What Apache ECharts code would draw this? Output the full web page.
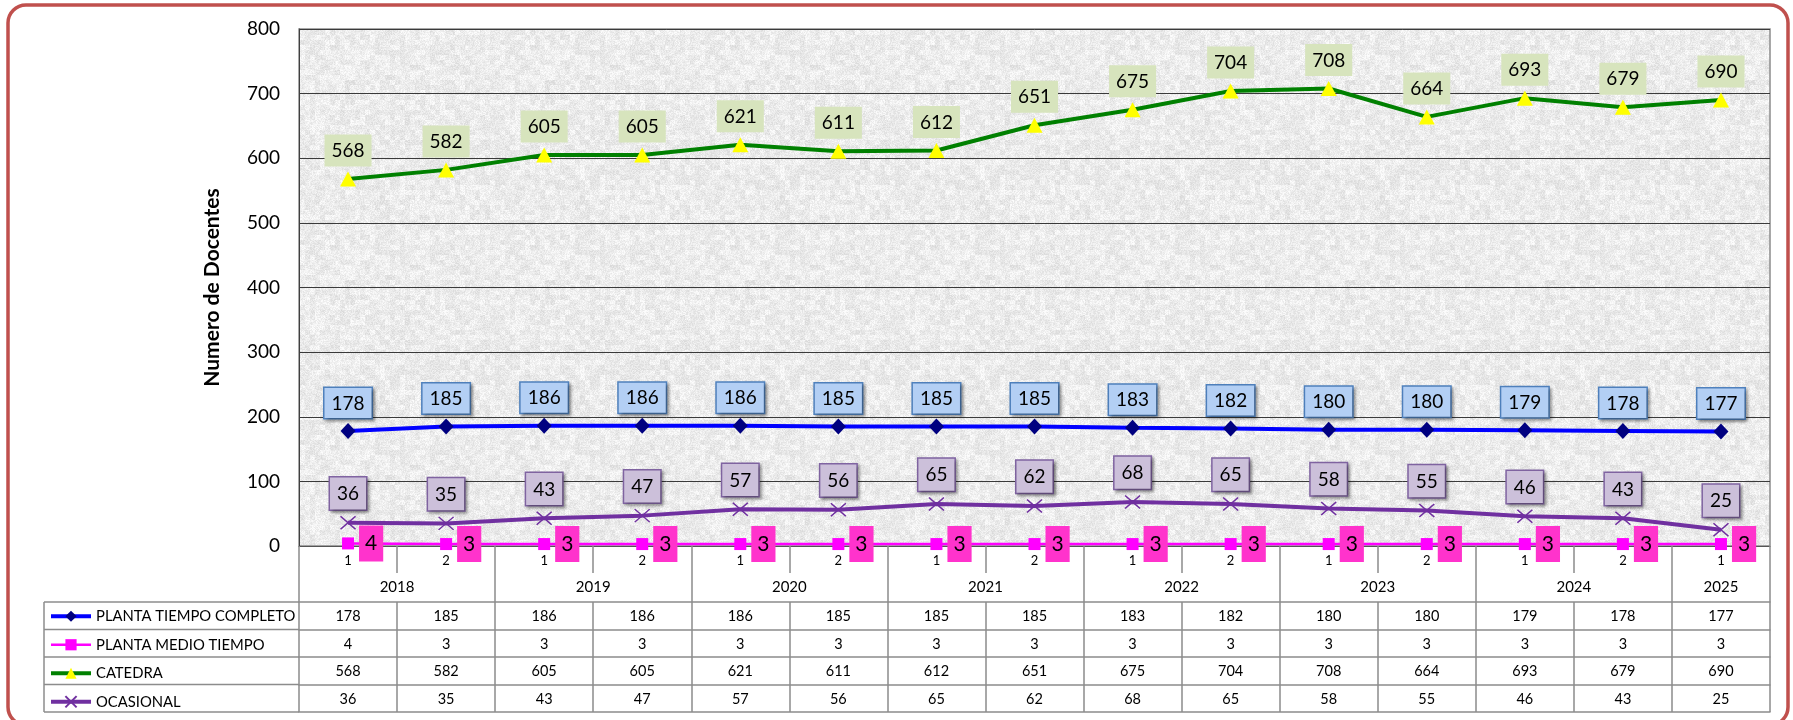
<!DOCTYPE html>
<html>
<head>
<meta charset="utf-8">
<script src="https://cdn.jsdelivr.net/npm/echarts@6/dist/echarts.min.js"></script>
<style>
  html, body { margin: 0; padding: 0; background: #ffffff; }
  #chart { width: 1793px; height: 720px; }
</style>
</head>
<body>
<div id="chart"></div>
<script>
// ---- data ----
const subLabels = ['1','2','1','2','1','2','1','2','1','2','1','2','1','2','1'];
const yearLabels = ['2018','2019','2020','2021','2022','2023','2024','2025'];
const periodsPerYear = [2,2,2,2,2,2,2,1];
const seriesNames = ['PLANTA TIEMPO COMPLETO','PLANTA MEDIO TIEMPO','CATEDRA','OCASIONAL'];
const plantaCompleto = [178,185,186,186,186,185,185,185,183,182,180,180,179,178,177];
const plantaMedio = [4,3,3,3,3,3,3,3,3,3,3,3,3,3,3];
const catedra = [568,582,605,605,621,611,612,651,675,704,708,664,693,679,690];
const ocasional = [36,35,43,47,57,56,65,62,68,65,58,55,46,43,25];
const yMin = 0, yMax = 800, yStep = 100;
const yTitle = 'Numero de Docentes';

// ---- derived year boundaries ----
const yearBounds = [0];
const yearMids = [];
periodsPerYear.forEach(function (n) {
  const start = yearBounds[yearBounds.length - 1];
  yearMids.push(start + n / 2);
  yearBounds.push(start + n);
});
const nCats = subLabels.length;

// ---- decorative texture (deterministic) ----
function hash(x, y) {
  const n = Math.sin(x * 127.1 + y * 311.7) * 43758.5453;
  return n - Math.floor(n);
}
const tex = document.createElement('canvas');
tex.width = 200; tex.height = 200;
(function () {
  const ctx = tex.getContext('2d');
  const img = ctx.createImageData(200, 200);
  for (let y = 0; y < 200; y++) {
    for (let x = 0; x < 200; x++) {
      const c = hash(Math.floor(x / 5), Math.floor(y / 5));
      const f = hash(x + 0.37, y + 0.71);
      let v = 236 + (c - 0.5) * 18 + (f - 0.5) * 22;
      v = Math.max(195, Math.min(252, v));
      const k = (y * 200 + x) * 4;
      img.data[k] = v; img.data[k + 1] = v; img.data[k + 2] = v; img.data[k + 3] = 255;
    }
  }
  ctx.putImageData(img, 0, 0);
})();

// ---- layout ----
const G = { left: 299, right: 23, top: 29, bottom: 174 };
const rowH = 27.5;
const tableTopOff = 56;   // from plot bottom to table top
const lineGrey = '#8c8c8c';
const FONT = 'Lato';

const tableRows = [plantaCompleto, plantaMedio, catedra, ocasional];

const xAxes = [
  {
    type: 'category', data: subLabels, gridIndex: 0, position: 'bottom', offset: 0,
    boundaryGap: true,
    axisLine: { show: true, lineStyle: { color: '#555555', width: 1 } },
    axisTick: { show: true, interval: 0, length: 27, lineStyle: { color: lineGrey, width: 1.5 } },
    axisLabel: { interval: 0, margin: 8, fontSize: 13, color: '#000', fontFamily: FONT },
    splitLine: { show: false }
  },
  {
    type: 'value', min: 0, max: nCats, gridIndex: 0, position: 'bottom', offset: 0,
    axisLine: { show: false },
    axisTick: { show: true, customValues: yearBounds, length: tableTopOff, lineStyle: { color: lineGrey, width: 1.5 } },
    axisLabel: {
      customValues: yearMids, margin: 34, fontSize: 15, color: '#000', fontFamily: FONT,
      formatter: function (v) {
        const i = yearMids.indexOf(v);
        return i >= 0 ? yearLabels[i] : '';
      }
    },
    splitLine: { show: false }
  }
];
tableRows.forEach(function (arr, r) {
  xAxes.push({
    type: 'category', data: subLabels, gridIndex: 0, position: 'bottom',
    offset: tableTopOff + r * rowH,
    boundaryGap: true,
    axisLine: { show: true, lineStyle: { color: lineGrey, width: 1.5 } },
    axisTick: { show: true, interval: 0, length: rowH, lineStyle: { color: lineGrey, width: 1.5 } },
    axisLabel: {
      interval: 0, margin: 7, fontSize: 14.5, color: '#000', fontFamily: FONT,
      formatter: function (v, idx) { return String(arr[idx]); }
    },
    splitLine: { show: false }
  });
});
xAxes.push({
  type: 'category', data: subLabels, gridIndex: 0, position: 'bottom',
  offset: tableTopOff + 4 * rowH,
  axisLine: { show: true, lineStyle: { color: lineGrey, width: 1.5 } },
  axisTick: { show: false }, axisLabel: { show: false }, splitLine: { show: false }
});

const boxShadow = { shadowColor: 'rgba(0,0,0,0.35)', shadowBlur: 3, shadowOffsetX: 2, shadowOffsetY: 2 };

const chart = echarts.init(document.getElementById('chart'), null, { renderer: 'canvas' });

const plotBottomY = 720 - G.bottom;
const tableTopY = plotBottomY + tableTopOff;
const tableLeftX = 44;
const leftLines = [];
for (let r = 0; r <= 4; r++) {
  const y = tableTopY + r * rowH;
  leftLines.push({ type: 'line', shape: { x1: tableLeftX, y1: y, x2: G.left, y2: y }, style: { stroke: lineGrey, lineWidth: 1.5 }, silent: true });
}
leftLines.push({ type: 'line', shape: { x1: tableLeftX, y1: tableTopY, x2: tableLeftX, y2: tableTopY + 4 * rowH }, style: { stroke: lineGrey, lineWidth: 1.5 }, silent: true });

const legendWidths = { 'PLANTA TIEMPO COMPLETO': 4, 'PLANTA MEDIO TIEMPO': 2.5, 'CATEDRA': 4, 'OCASIONAL': 4 };

chart.setOption({
  animation: false,
  backgroundColor: '#ffffff',
  textStyle: { fontFamily: FONT },
  grid: {
    left: G.left, right: G.right, top: G.top, bottom: G.bottom,
    show: true, backgroundColor: { image: tex, repeat: 'repeat' },
    borderColor: lineGrey, borderWidth: 1.5
  },
  legend: {
    data: seriesNames.map(function (n) { return { name: n, lineStyle: { width: legendWidths[n] } }; }),
    orient: 'vertical', left: 49, top: tableTopY + rowH / 2 - 7,
    itemWidth: 40, itemHeight: 14, itemGap: rowH - 14, padding: 0,
    selectedMode: false,
    textStyle: { fontSize: 14.8, color: '#000', fontFamily: FONT }
  },
  xAxis: xAxes,
  yAxis: {
    type: 'value', min: yMin, max: yMax, interval: yStep,
    name: yTitle, nameLocation: 'middle', nameRotate: 90, nameGap: 76,
    nameTextStyle: { fontSize: 21, fontWeight: 'bold', color: '#000', fontFamily: FONT },
    axisLine: { show: true, lineStyle: { color: '#404040', width: 1 } },
    axisTick: { show: false },
    axisLabel: { fontSize: 19, color: '#000', margin: 19, fontFamily: FONT },
    splitLine: { show: true, lineStyle: { color: '#3a3a3a', width: 1 } }
  },
  graphic: [
    { type: 'rect', shape: { x: 8, y: 5, width: 1780, height: 720, r: 18 }, style: { fill: 'none', stroke: '#C0504D', lineWidth: 3.5 }, silent: true, z: -1 }
  ].concat(leftLines),
  series: [
    {
      name: 'CATEDRA', type: 'line', data: catedra, xAxisIndex: 0, yAxisIndex: 0,
      symbol: 'triangle', symbolSize: [16, 15],
      lineStyle: { color: '#008000', width: 4 },
      itemStyle: { color: '#FFFF00', borderWidth: 0 },
      label: { show: true, position: 'top', distance: 5, fontSize: 19, color: '#000', fontFamily: FONT,
        backgroundColor: '#D7E4BD', padding: [7, 7, 6, 7] },
      z: 3
    },
    {
      name: 'PLANTA TIEMPO COMPLETO', type: 'line', data: plantaCompleto, xAxisIndex: 0, yAxisIndex: 0,
      symbol: 'diamond', symbolSize: [15, 16],
      lineStyle: { color: '#0000FF', width: 4 },
      itemStyle: { color: '#000080', borderWidth: 0 },
      label: Object.assign({ show: true, position: 'top', distance: 5, fontSize: 19, color: '#000', fontFamily: FONT,
        backgroundColor: '#B3CFF4', borderColor: '#4F81BD', borderWidth: 1.5, padding: [6, 7, 5, 7] }, boxShadow),
      z: 3
    },
    {
      name: 'OCASIONAL', type: 'line', data: ocasional, xAxisIndex: 0, yAxisIndex: 0,
      symbol: 'path://M0,0 L10,9 M10,0 L0,9', symbolSize: [15, 13],
      lineStyle: { color: '#7030A0', width: 4 },
      itemStyle: { color: 'rgba(0,0,0,0)', borderColor: '#7030A0', borderWidth: 1.5 },
      label: Object.assign({ show: true, position: 'top', distance: 6, fontSize: 19, color: '#000', fontFamily: FONT,
        backgroundColor: '#CCC0DA', borderColor: '#8064A2', borderWidth: 1.5, padding: [7, 7, 6, 7] }, boxShadow),
      z: 3
    },
    {
      name: 'PLANTA MEDIO TIEMPO', type: 'line', data: plantaMedio, xAxisIndex: 0, yAxisIndex: 0,
      symbol: 'rect', symbolSize: 12,
      lineStyle: { color: '#FF00FF', width: 2.5 },
      itemStyle: { color: '#FF00FF', borderWidth: 0 },
      label: { show: true, position: 'right', distance: 5, fontSize: 21, color: '#000', fontFamily: FONT,
        backgroundColor: '#FF33CC', padding: [8, 6, 7, 6] },
      z: 4
    }
  ]
});
</script>
</body>
</html>
